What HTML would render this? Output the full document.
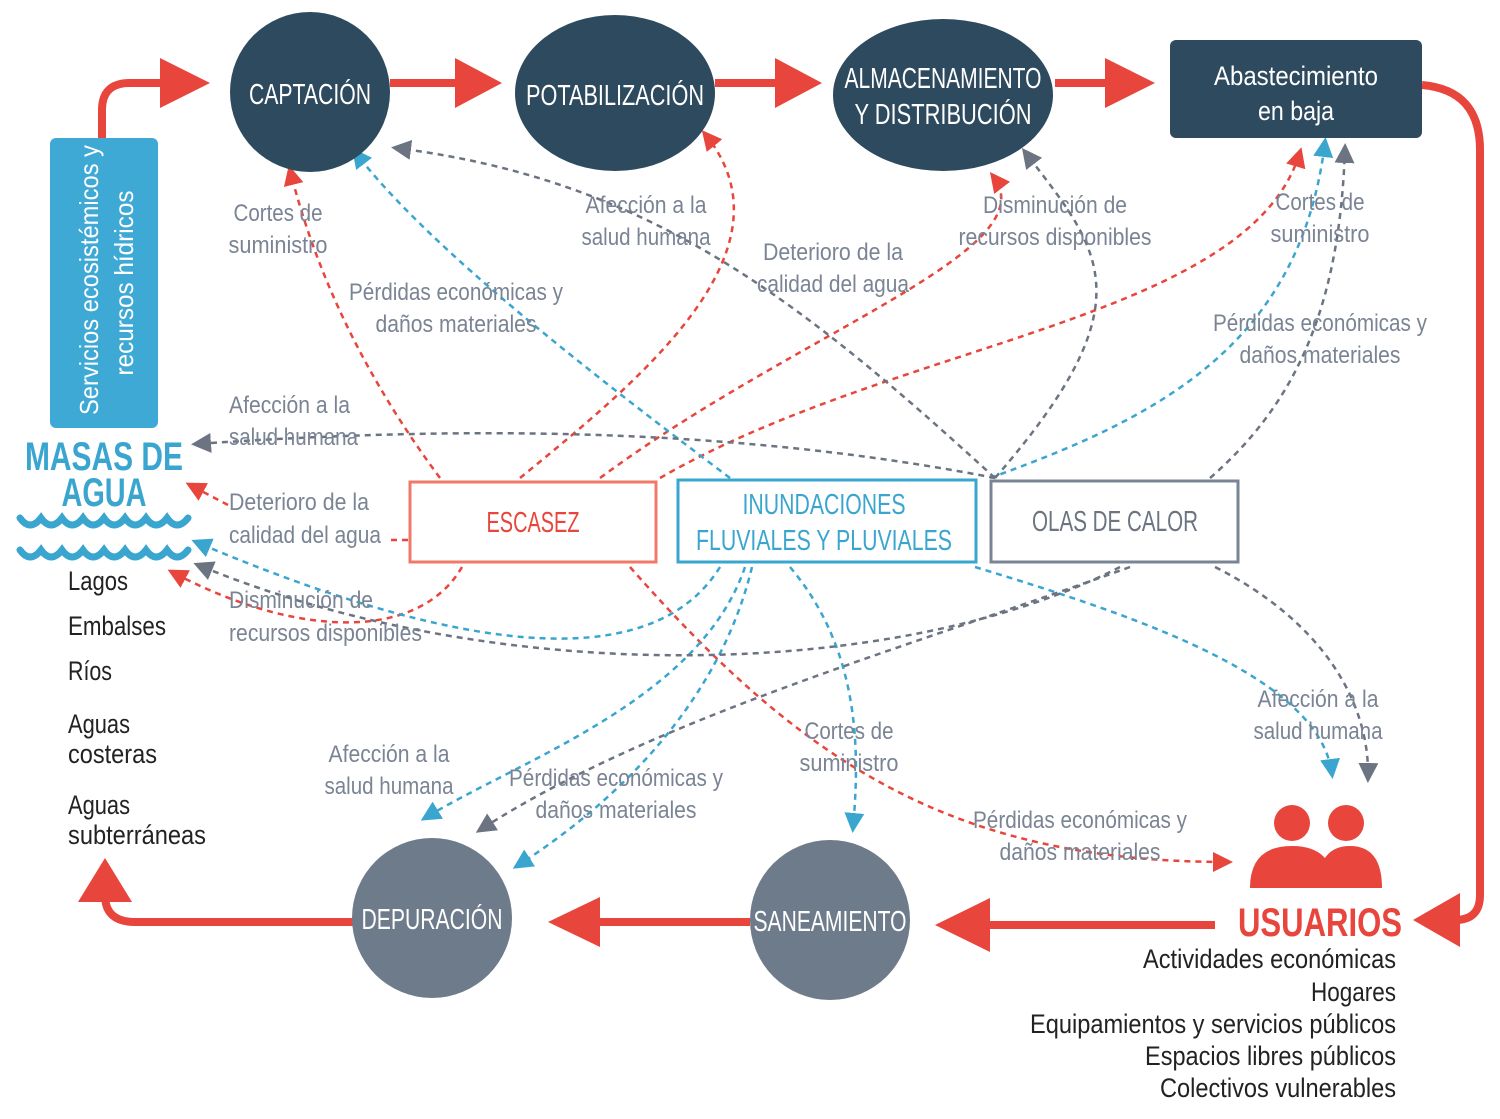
<!DOCTYPE html>
<html><head><meta charset="utf-8"><style>
html,body{margin:0;padding:0;background:#fff;}
svg{display:block;}
text{font-family:"Liberation Sans",sans-serif;}
.lb{fill:#7a8494;font-size:24px;}
.r{stroke:#e8453c;stroke-width:2.5;fill:none;stroke-dasharray:6 5;}
.b{stroke:#3aa6cf;stroke-width:2.5;fill:none;stroke-dasharray:6 5;}
.g{stroke:#6b7480;stroke-width:2.5;fill:none;stroke-dasharray:6 5;}
.w{fill:#fff;font-size:29px;}
.k{fill:#222;font-size:27px;}
</style></head><body>
<svg width="1500" height="1119" viewBox="0 0 1500 1119">
<defs>
<marker id="mr" markerWidth="8" markerHeight="8" refX="6" refY="4" orient="auto"><path d="M0,0L8,4L0,8z" fill="#e8453c"/></marker>
<marker id="mb" markerWidth="8" markerHeight="8" refX="6" refY="4" orient="auto"><path d="M0,0L8,4L0,8z" fill="#3aa6cf"/></marker>
<marker id="mg" markerWidth="8" markerHeight="8" refX="6" refY="4" orient="auto"><path d="M0,0L8,4L0,8z" fill="#6b7480"/></marker>
</defs>
<g stroke="#e8453c" stroke-width="8" fill="none">
<path d="M102,138 L102,110 Q102,83 130,83 L175,83"/>
<path d="M390,83 L460,83"/>
<path d="M715,83 L780,83"/>
<path d="M1055,83 L1115,83"/>
<path d="M1422,85 Q1480,90 1480,150 L1480,895 Q1480,920 1455,920"/>
<path d="M1215,925 L985,925"/>
<path d="M750,922 L595,922"/>
<path d="M355,922 L135,922 Q105,922 105,895 L105,895"/>
</g>
<g fill="#e8453c">
<path d="M160,58L210,83L160,108z"/>
<path d="M455,58L502,83L455,108z"/>
<path d="M775,58L822,83L775,108z"/>
<path d="M1105,58L1155,83L1105,108z"/>
<path d="M1460,893L1413,920L1460,947z"/>
<path d="M990,898L935,925L990,952z"/>
<path d="M600,897L548,922L600,947z"/>
<path d="M78,902L105,858L132,902z"/>
</g>
<path class="r" marker-end="url(#mr)" d="M440,478 Q330,330 290,170"/>
<path class="r" marker-end="url(#mr)" d="M520,478 C640,380 800,250 705,134"/>
<path class="r" marker-end="url(#mr)" d="M600,478 C800,330 1050,250 993,176"/>
<path class="r" marker-end="url(#mr)" d="M660,478 C900,340 1250,320 1300,152"/>
<path class="r" marker-end="url(#mr)" d="M408,540 L390,540 M228,505 L190,485"/>
<path class="r" marker-end="url(#mr)" d="M462,567 C420,640 300,640 172,572"/>
<path class="r" marker-end="url(#mr)" d="M630,567 C800,760 950,862 1228,862"/>
<path class="b" marker-end="url(#mb)" d="M730,478 C600,380 430,250 355,152"/>
<path class="b" marker-end="url(#mb)" d="M990,478 C1150,420 1300,350 1325,142"/>
<path class="b" marker-end="url(#mb)" d="M720,567 C650,680 450,650 196,542"/>
<path class="b" marker-end="url(#mb)" d="M745,567 C700,700 520,760 425,818"/>
<path class="b" marker-end="url(#mb)" d="M752,567 C720,700 620,800 517,866"/>
<path class="b" marker-end="url(#mb)" d="M790,567 C860,650 860,750 853,828"/>
<path class="b" marker-end="url(#mb)" d="M975,567 C1150,620 1320,680 1332,774"/>
<path class="g" marker-end="url(#mg)" d="M995,478 C800,300 650,180 396,148"/>
<path class="g" marker-end="url(#mg)" d="M995,478 C1150,300 1100,250 1025,152"/>
<path class="g" marker-end="url(#mg)" d="M995,478 C700,420 400,430 196,444"/>
<path class="g" marker-end="url(#mg)" d="M1210,478 C1300,400 1340,300 1345,148"/>
<path class="g" marker-end="url(#mg)" d="M1120,567 C900,680 500,690 198,565"/>
<path class="g" marker-end="url(#mg)" d="M1130,567 C900,650 650,720 480,830"/>
<path class="g" marker-end="url(#mg)" d="M1215,567 C1320,620 1370,700 1368,778"/>
<circle cx="310" cy="92" r="80" fill="#2e4a5e"/>
<text x="310" y="104" text-anchor="middle" class="w" textLength="122" lengthAdjust="spacingAndGlyphs">CAPTACIÓN</text>
<ellipse cx="615" cy="93" rx="100" ry="78" fill="#2e4a5e"/>
<text x="615" y="105" text-anchor="middle" class="w" textLength="178" lengthAdjust="spacingAndGlyphs">POTABILIZACIÓN</text>
<ellipse cx="943" cy="95" rx="110" ry="76" fill="#2e4a5e"/>
<text x="943" y="88" text-anchor="middle" class="w" textLength="197" lengthAdjust="spacingAndGlyphs">ALMACENAMIENTO</text>
<text x="943" y="124" text-anchor="middle" class="w" textLength="177" lengthAdjust="spacingAndGlyphs">Y DISTRIBUCIÓN</text>
<rect x="1170" y="40" width="252" height="98" rx="6" fill="#2e4a5e"/>
<text x="1296" y="85" text-anchor="middle" class="w" style="font-size:27px" textLength="164" lengthAdjust="spacingAndGlyphs">Abastecimiento</text>
<text x="1296" y="120" text-anchor="middle" class="w" style="font-size:27px" textLength="76" lengthAdjust="spacingAndGlyphs">en baja</text>
<circle cx="830" cy="920" r="80" fill="#6e7b8b"/>
<text x="830" y="931" text-anchor="middle" class="w" textLength="153" lengthAdjust="spacingAndGlyphs">SANEAMIENTO</text>
<circle cx="432" cy="918" r="80" fill="#6e7b8b"/>
<text x="432" y="929" text-anchor="middle" class="w" textLength="141" lengthAdjust="spacingAndGlyphs">DEPURACIÓN</text>
<rect x="50" y="138" width="108" height="290" rx="6" fill="#3fa9d5"/>
<text transform="translate(98,280) rotate(-90)" text-anchor="middle" fill="#fff" font-size="26" textLength="270" lengthAdjust="spacingAndGlyphs">Servicios ecosistémicos y</text>
<text transform="translate(133,283) rotate(-90)" text-anchor="middle" fill="#fff" font-size="26" textLength="185" lengthAdjust="spacingAndGlyphs">recursos hídricos</text>
<text x="104" y="470" text-anchor="middle" fill="#3aa6cf" font-size="40" font-weight="bold" textLength="158" lengthAdjust="spacingAndGlyphs">MASAS DE</text>
<text x="104" y="506" text-anchor="middle" fill="#3aa6cf" font-size="40" font-weight="bold" textLength="85" lengthAdjust="spacingAndGlyphs">AGUA</text>
<path d="M20,518 q10,14 21,0 q10,14 21,0 q10,14 21,0 q10,14 21,0 q10,14 21,0 q10,14 21,0 q10,14 21,0 q10,14 21,0 M20,550 q10,14 21,0 q10,14 21,0 q10,14 21,0 q10,14 21,0 q10,14 21,0 q10,14 21,0 q10,14 21,0 q10,14 21,0" stroke="#3aa6cf" stroke-width="7" fill="none" stroke-linecap="round"/>
<text x="68" y="590" class="k" textLength="60" lengthAdjust="spacingAndGlyphs">Lagos</text>
<text x="68" y="635" class="k" textLength="98" lengthAdjust="spacingAndGlyphs">Embalses</text>
<text x="68" y="680" class="k" textLength="44" lengthAdjust="spacingAndGlyphs">Ríos</text>
<text x="68" y="733" class="k" textLength="62" lengthAdjust="spacingAndGlyphs">Aguas</text>
<text x="68" y="763" class="k" textLength="89" lengthAdjust="spacingAndGlyphs">costeras</text>
<text x="68" y="814" class="k" textLength="62" lengthAdjust="spacingAndGlyphs">Aguas</text>
<text x="68" y="844" class="k" textLength="138" lengthAdjust="spacingAndGlyphs">subterráneas</text>
<rect x="410" y="482" width="246" height="80" fill="#fff" stroke="#f07a68" stroke-width="3"/>
<text x="533" y="532" text-anchor="middle" fill="#e8453c" font-size="29" textLength="93" lengthAdjust="spacingAndGlyphs">ESCASEZ</text>
<rect x="678" y="480" width="298" height="82" fill="#fff" stroke="#3aa6cf" stroke-width="3"/>
<text x="824" y="514" text-anchor="middle" fill="#3aa6cf" font-size="29" textLength="163" lengthAdjust="spacingAndGlyphs">INUNDACIONES</text>
<text x="824" y="550" text-anchor="middle" fill="#3aa6cf" font-size="29" textLength="256" lengthAdjust="spacingAndGlyphs">FLUVIALES Y PLUVIALES</text>
<rect x="991" y="481" width="247" height="81" fill="#fff" stroke="#7a8494" stroke-width="3"/>
<text x="1115" y="531" text-anchor="middle" fill="#6b7480" font-size="29" textLength="166" lengthAdjust="spacingAndGlyphs">OLAS DE CALOR</text>
<g fill="#e8453c">
<circle cx="1292" cy="823" r="18"/><path d="M1250,888 q0,-42 42,-42 q42,0 42,42z"/>
<circle cx="1346" cy="823" r="18"/><path d="M1318,888 q0,-42 32,-42 q32,0 32,42z"/>
</g>
<text x="1320" y="936" text-anchor="middle" fill="#e8453c" font-size="40" font-weight="bold" textLength="164" lengthAdjust="spacingAndGlyphs">USUARIOS</text>
<g class="k" text-anchor="end">
<text x="1396" y="968" textLength="253" lengthAdjust="spacingAndGlyphs">Actividades económicas</text>
<text x="1396" y="1001" textLength="85" lengthAdjust="spacingAndGlyphs">Hogares</text>
<text x="1396" y="1033" textLength="366" lengthAdjust="spacingAndGlyphs">Equipamientos y servicios públicos</text>
<text x="1396" y="1065" textLength="251" lengthAdjust="spacingAndGlyphs">Espacios libres públicos</text>
<text x="1396" y="1097" textLength="236" lengthAdjust="spacingAndGlyphs">Colectivos vulnerables</text>
</g>
<g class="lb" text-anchor="middle" lengthAdjust="spacingAndGlyphs">
<text x="278" y="221" textLength="89" lengthAdjust="spacingAndGlyphs">Cortes de</text><text x="278" y="253" textLength="99" lengthAdjust="spacingAndGlyphs">suministro</text>
<text x="646" y="213" textLength="121" lengthAdjust="spacingAndGlyphs">Afección a la</text><text x="646" y="245" textLength="129" lengthAdjust="spacingAndGlyphs">salud humana</text>
<text x="456" y="300" textLength="214" lengthAdjust="spacingAndGlyphs">Pérdidas económicas y</text><text x="456" y="332" textLength="161" lengthAdjust="spacingAndGlyphs">daños materiales</text>
<text x="833" y="260" textLength="140" lengthAdjust="spacingAndGlyphs">Deterioro de la</text><text x="833" y="292" textLength="152" lengthAdjust="spacingAndGlyphs">calidad del agua</text>
<text x="1055" y="213" textLength="144" lengthAdjust="spacingAndGlyphs">Disminución de</text><text x="1055" y="245" textLength="193" lengthAdjust="spacingAndGlyphs">recursos disponibles</text>
<text x="1320" y="210" textLength="89" lengthAdjust="spacingAndGlyphs">Cortes de</text><text x="1320" y="242" textLength="99" lengthAdjust="spacingAndGlyphs">suministro</text>
<text x="1320" y="331" textLength="214" lengthAdjust="spacingAndGlyphs">Pérdidas económicas y</text><text x="1320" y="363" textLength="161" lengthAdjust="spacingAndGlyphs">daños materiales</text>
<text x="1318" y="707" textLength="121" lengthAdjust="spacingAndGlyphs">Afección a la</text><text x="1318" y="739" textLength="129" lengthAdjust="spacingAndGlyphs">salud humana</text>
<text x="849" y="739" textLength="89" lengthAdjust="spacingAndGlyphs">Cortes de</text><text x="849" y="771" textLength="99" lengthAdjust="spacingAndGlyphs">suministro</text>
<text x="389" y="762" textLength="121" lengthAdjust="spacingAndGlyphs">Afección a la</text><text x="389" y="794" textLength="129" lengthAdjust="spacingAndGlyphs">salud humana</text>
<text x="616" y="786" textLength="214" lengthAdjust="spacingAndGlyphs">Pérdidas económicas y</text><text x="616" y="818" textLength="161" lengthAdjust="spacingAndGlyphs">daños materiales</text>
<text x="1080" y="828" textLength="214" lengthAdjust="spacingAndGlyphs">Pérdidas económicas y</text><text x="1080" y="860" textLength="161" lengthAdjust="spacingAndGlyphs">daños materiales</text>
</g>
<g class="lb">
<text x="229" y="413" textLength="121" lengthAdjust="spacingAndGlyphs">Afección a la</text><text x="229" y="445" textLength="129" lengthAdjust="spacingAndGlyphs">salud humana</text>
<text x="229" y="510" textLength="140" lengthAdjust="spacingAndGlyphs">Deterioro de la</text><text x="229" y="543" textLength="152" lengthAdjust="spacingAndGlyphs">calidad del agua</text>
<text x="229" y="608" textLength="144" lengthAdjust="spacingAndGlyphs">Disminución de</text><text x="229" y="641" textLength="193" lengthAdjust="spacingAndGlyphs">recursos disponibles</text>
</g>
</svg>
</body></html>
